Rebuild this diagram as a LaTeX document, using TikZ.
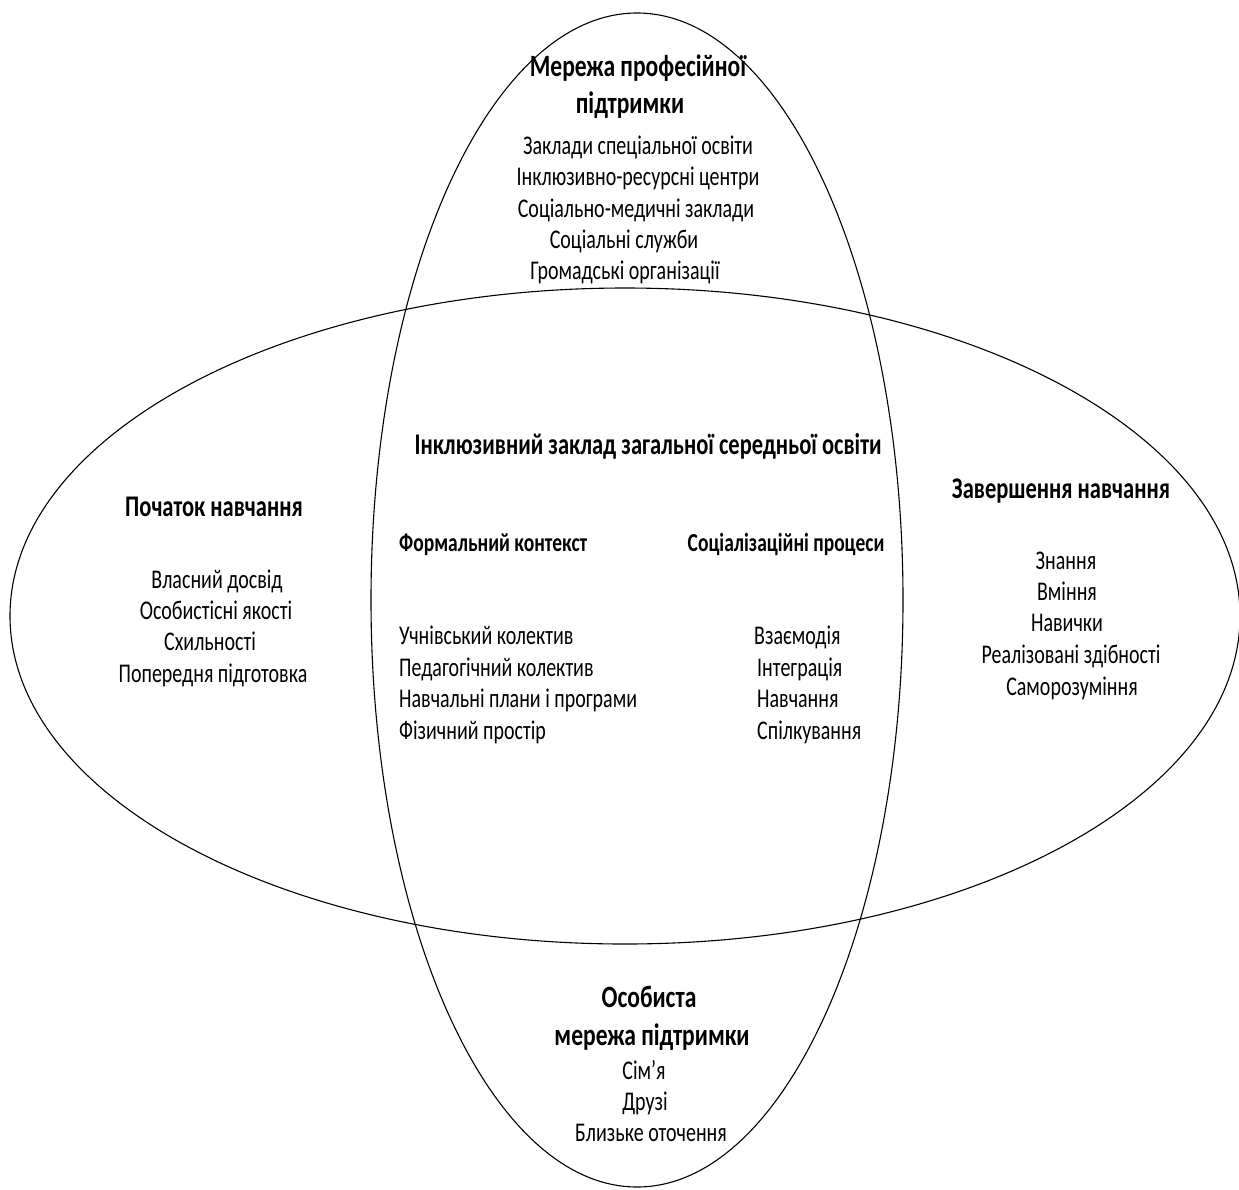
\documentclass[tikz,border=0pt]{standalone}
\usepackage{fontspec}
\setmainfont{Carlito}[FakeStretch=0.74]
\newfontfamily\headfont{Carlito}[FakeStretch=0.75]
\newfontfamily\bigheadfont{Carlito}[FakeStretch=0.76]
\begin{document}
\begin{tikzpicture}[x=1pt,y=-1pt,
  ring/.style={draw=black,line width=1.1pt},
  body/.style={inner sep=0pt,anchor=base,font=\fontsize{27}{32}\selectfont},
  head/.style={inner sep=0pt,anchor=base,font=\headfont\bfseries\fontsize{30}{36}\selectfont},
  subhead/.style={inner sep=0pt,anchor=base,font=\headfont\bfseries\fontsize{26}{31}\selectfont},
  bighead/.style={inner sep=0pt,anchor=base,font=\bigheadfont\bfseries\fontsize{31}{37}\selectfont}]
\useasboundingbox[fill=white] (0,0) rectangle (1239,1189);

% the two overlapping ellipses
\draw[ring] (625,616) ellipse [x radius=615pt, y radius=328pt];
\draw[ring] (637,600) ellipse [x radius=266pt, y radius=587pt];

% professional support network (top)
\node[bighead] (prof1) at (638,76) {Мережа професійної};
\node[bighead] (prof2) at (630,113) {підтримки};
\node[body] (p1) at (638,154) {Заклади спеціальної освіти};
\node[body] (p2) at (638,185) {Інклюзивно-ресурсні центри};
\node[body] (p3) at (636,217) {Соціально-медичні заклади};
\node[body] (p4) at (624,248) {Соціальні служби};
\node[body] (p5) at (625,279) {Громадські організації};

% inclusive school (centre)
\node[head] (school) at (648,454) {Інклюзивний заклад загальної середньої освіти};
\node[subhead,anchor=base west] (formal) at (399,551) {Формальний контекст};
\node[subhead] (social) at (786,551) {Соціалізаційні процеси};
\node[body,anchor=base west] (f1) at (399,644) {Учнівський колектив};
\node[body,anchor=base west] (f2) at (399,676) {Педагогічний колектив};
\node[body,anchor=base west] (f3) at (399,707) {Навчальні плани і програми};
\node[body,anchor=base west] (f4) at (399,739) {Фізичний простір};
\node[body,anchor=base west] (s1) at (754,644) {Взаємодія};
\node[body,anchor=base west] (s2) at (757,676) {Інтеграція};
\node[body,anchor=base west] (s3) at (757,707) {Навчання};
\node[body,anchor=base west] (s4) at (757,739) {Спілкування};

% start of learning (left)
\node[head] (start) at (214,516) {Початок навчання};
\node[body] (b1) at (217,588) {Власний досвід};
\node[body] (b2) at (216,619) {Особистісні якості};
\node[body] (b3) at (210,650) {Схильності};
\node[body] (b4) at (213,682) {Попередня підготовка};

% end of learning (right)
\node[head] (finish) at (1061,498) {Завершення навчання};
\node[body] (e1) at (1066,569) {Знання};
\node[body] (e2) at (1067,600) {Вміння};
\node[body] (e3) at (1067,631) {Навички};
\node[body] (e4) at (1071,663) {Реалізовані здібності};
\node[body] (e5) at (1072,695) {Саморозуміння};

% personal support network (bottom)
\node[bighead] (pers1) at (649,1007) {Особиста};
\node[bighead] (pers2) at (652,1045) {мережа підтримки};
\node[body] (n1) at (644,1079) {Сім{\char"27}я};
\node[body] (n2) at (645,1110) {Друзі};
\node[body] (n3) at (651,1141) {Близьке оточення};
\end{tikzpicture}
\end{document}
